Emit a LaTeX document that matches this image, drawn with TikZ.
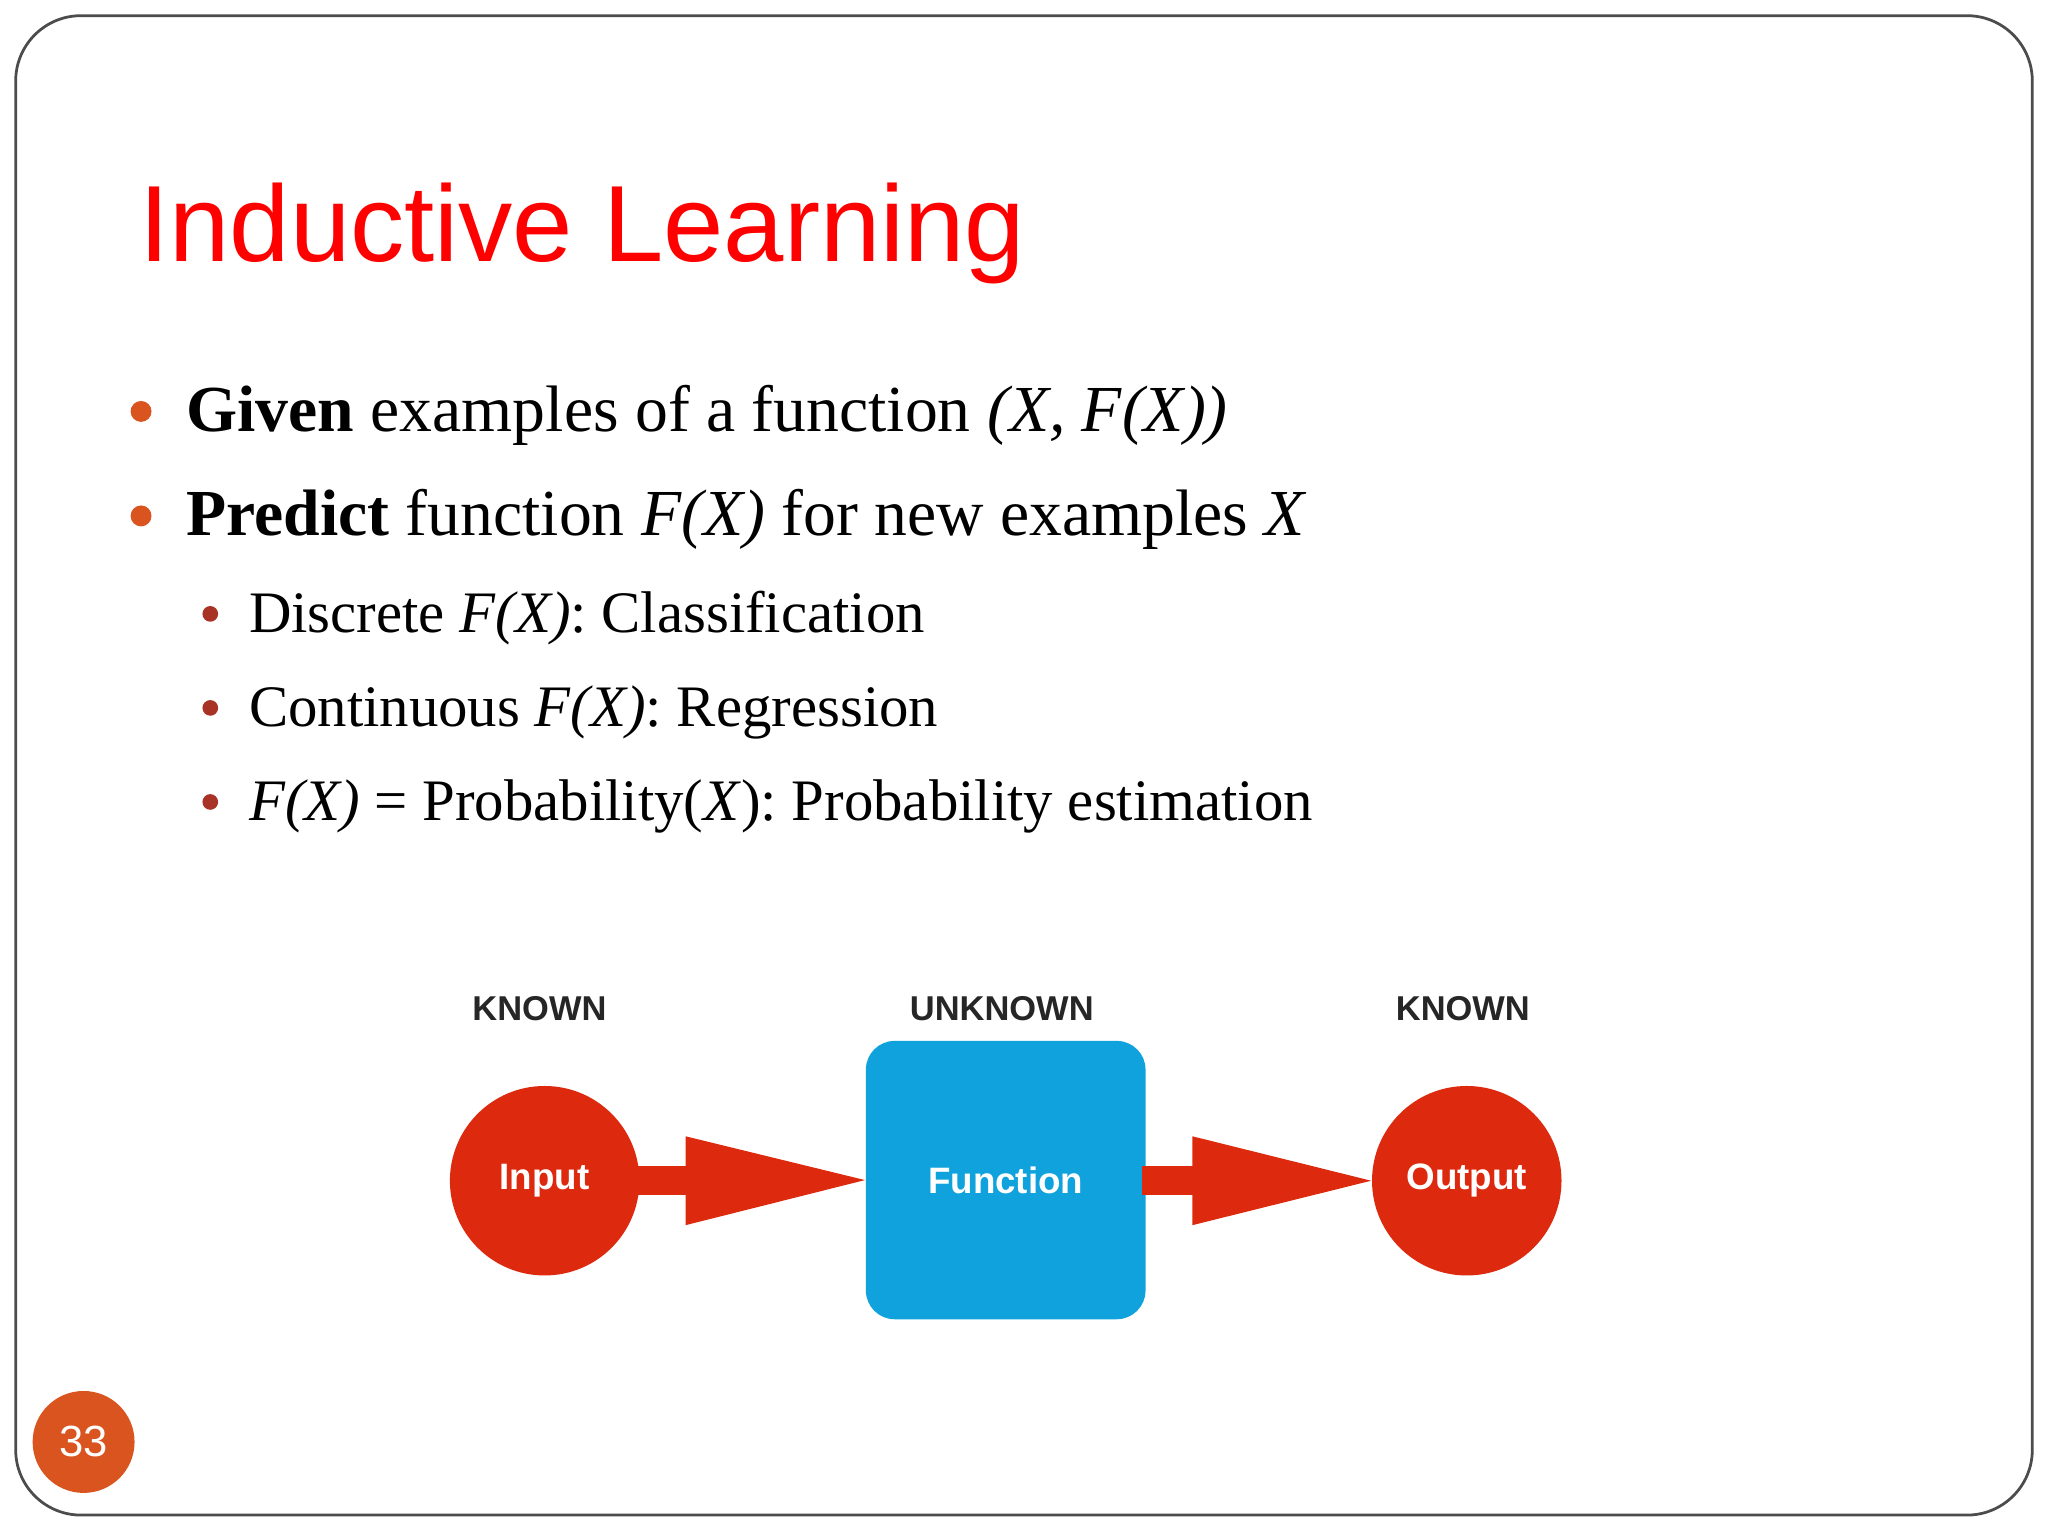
\documentclass[tikz,border=0pt]{standalone}
\usepackage{fontspec}
\setmainfont{Liberation Serif}
\setsansfont{Liberation Sans}
\newfontfamily\hv{Liberation Sans}
\begin{document}
\begin{tikzpicture}[x=0.01cm,y=-0.01cm,
  dot/.style={circle,fill=#1,inner sep=0pt,minimum size=0.16cm},
  lbl/.style={font=\hv\bfseries\fontsize{7.5}{9}\selectfont,text=black!85},
  bul/.style={anchor=base west,inner sep=0pt,font=\fontsize{14.3}{18}\selectfont},
  sub/.style={anchor=base west,inner sep=0pt,font=\fontsize{12.8}{16}\selectfont},
  red circ/.style={circle,fill=redc,minimum size=1.45cm,inner sep=0pt,text=white,font=\hv\bfseries\fontsize{8}{10}\selectfont},
  arr/.style={fill=redc}]
\definecolor{redc}{HTML}{DD2A0E}
\definecolor{bluef}{HTML}{10A2DC}
\definecolor{bulc}{HTML}{D9541E}
\definecolor{subc}{HTML}{A93226}
\useasboundingbox (0,0) rectangle (1568,1176);
\fill[white] (0,0) rectangle (1568,1176);
\draw[black!70,line width=0.6pt,rounded corners=0.5cm] (12,12) rectangle (1556,1160);
\node[anchor=base west,inner sep=0pt,text=red,font=\hv\fontsize{23.6}{28}\selectfont] (title) at (106,200) {Inductive Learning};
\node[dot=bulc] (b1) at (108,315) {};
\node[dot=bulc] (b2) at (108,395) {};
\node[bul] (t1) at (142,330) {\textbf{Given} examples of a function \textit{(X, F(X))}};
\node[bul] (t2) at (142,410) {\textbf{Predict} function \textit{F(X)} for new examples \textit{X}};
\node[dot=subc,minimum size=0.12cm] (s1) at (161,470) {};
\node[dot=subc,minimum size=0.12cm] (s2) at (161,542) {};
\node[dot=subc,minimum size=0.12cm] (s3) at (161,614) {};
\node[sub] (u1) at (190,484) {Discrete \textit{F(X)}: Classification};
\node[sub] (u2) at (190,556) {Continuous \textit{F(X)}: Regression};
\node[sub] (u3) at (190,628) {\textit{F(X)} = Probability(\textit{X}): Probability estimation};
\node[lbl] (k1) at (413,772) {KNOWN};
\node[lbl] (k2) at (767,772) {UNKNOWN};
\node[lbl] (k3) at (1120,772) {KNOWN};
\node[red circ] (in) at (417,904) {Input};
\node[red circ] (out) at (1123,904) {Output};
\node[fill=bluef,rounded corners=0.22cm,minimum width=2.14cm,minimum height=2.13cm,inner sep=0pt,text=white,font=\hv\bfseries\fontsize{8}{10}\selectfont] (fn) at (770,903.5) {Function};
\fill[arr] (485,893) rectangle (527,915);
\fill[arr] (525,870) -- (fn.west) -- (525,938) -- cycle;
\fill[arr] (874,893) rectangle (915,915);
\fill[arr] (913,870) -- (out.west) -- (913,938) -- cycle;
\node[circle,fill=bulc,minimum size=0.78cm,inner sep=0pt,text=white,font=\hv\fontsize{9.5}{11}\selectfont] (num) at (64,1104) {33};
\end{tikzpicture}
\end{document}
